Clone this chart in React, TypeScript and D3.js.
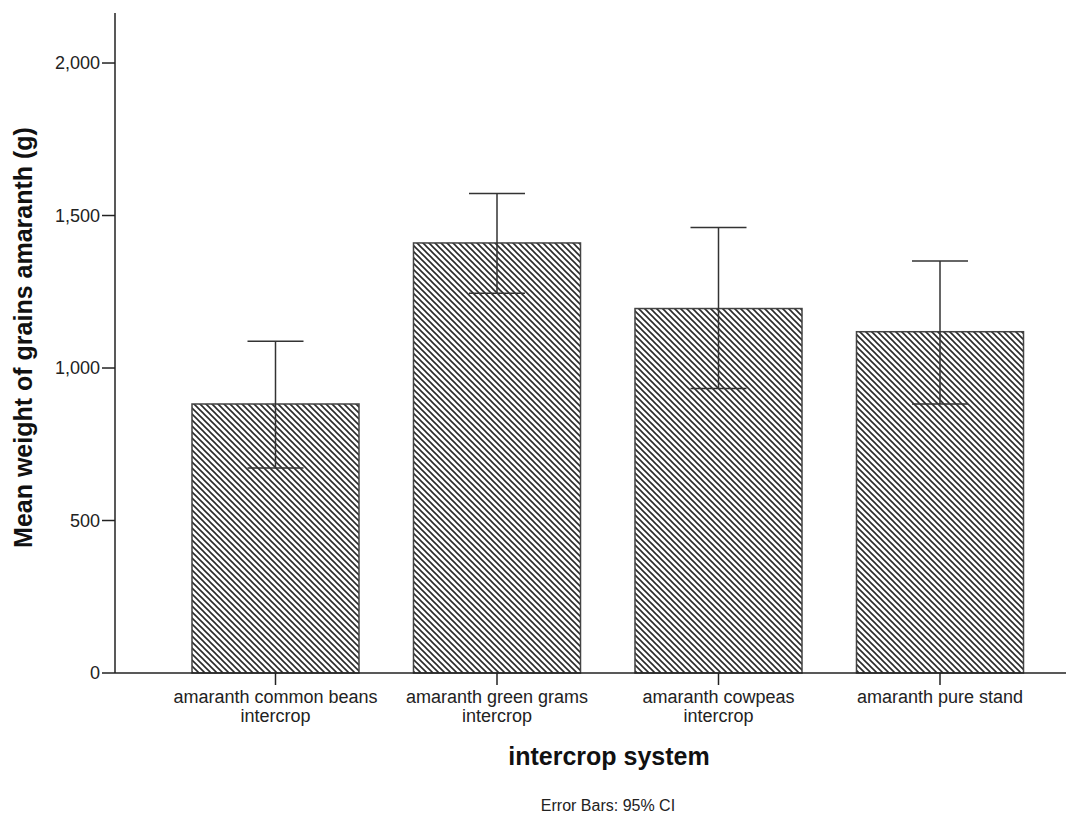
import React from "react";
import * as d3 from "d3";

// values
const categories = [
  "amaranth common beans|intercrop",
  "amaranth green grams|intercrop",
  "amaranth cowpeas|intercrop",
  "amaranth pure stand",
];
const means = [882, 1410, 1195, 1119];
const ciLow = [672, 1245, 933, 882];
const ciHigh = [1088, 1572, 1461, 1351];
const yTicks = [0, 500, 1000, 1500, 2000];

const W = 1066;
const H = 818;
const axisX = 115;
const axisY = 673;
const font = "'Liberation Sans', Arial, sans-serif";

export default function App() {
  const y = d3.scaleLinear().domain([0, 2164]).range([axisY, 13]);
  const x = d3
    .scaleBand()
    .domain(categories)
    .range([164.75, 1050.75])
    .paddingInner(0.246)
    .paddingOuter(0.123);
  const fmt = d3.format(",");
  const capW = 56;

  return (
    <svg
      width={W}
      height={H}
      style={{ position: "absolute", left: 0, top: 0, background: "#fff" }}
    >
      <defs>
        <pattern id="hatch" width={6} height={6} patternUnits="userSpaceOnUse">
          <rect width={6} height={6} fill="#fff" />
          <path
            d="M0,0 L6,6 M-1,5 L1,7 M5,-1 L7,1"
            stroke="#2a2a2a"
            strokeWidth={1.6}
          />
        </pattern>
      </defs>

      {/* bars */}
      {categories.map((c, i) => (
        <rect
          key={c}
          x={x(c)}
          y={y(means[i])}
          width={x.bandwidth()}
          height={y(0) - y(means[i])}
          fill="url(#hatch)"
          stroke="#444"
          strokeWidth={1.5}
        />
      ))}

      {/* error bars */}
      {categories.map((c, i) => {
        const cx = (x(c) ?? 0) + x.bandwidth() / 2;
        return (
          <g key={c} stroke="#333" strokeWidth={1.5}>
            <line x1={cx} x2={cx} y1={y(ciHigh[i])} y2={y(ciLow[i])} />
            <line x1={cx - capW / 2} x2={cx + capW / 2} y1={y(ciHigh[i])} y2={y(ciHigh[i])} />
            <line x1={cx - capW / 2} x2={cx + capW / 2} y1={y(ciLow[i])} y2={y(ciLow[i])} />
          </g>
        );
      })}

      {/* y axis */}
      <line x1={axisX} x2={axisX} y1={13} y2={axisY} stroke="#222" strokeWidth={1.5} />
      {yTicks.map((t) => (
        <g key={t}>
          <line x1={axisX - 13} x2={axisX} y1={y(t)} y2={y(t)} stroke="#222" strokeWidth={1.5} />
          <text
            x={axisX - 15}
            y={y(t)}
            dy="0.35em"
            textAnchor="end"
            fontFamily={font}
            fontSize={18}
            fill="#222"
          >
            {fmt(t)}
          </text>
        </g>
      ))}

      {/* x axis */}
      <line x1={axisX} x2={W} y1={axisY} y2={axisY} stroke="#222" strokeWidth={1.5} />
      {categories.map((c) => {
        const cx = (x(c) ?? 0) + x.bandwidth() / 2;
        const lines = c.split("|");
        return (
          <g key={c}>
            <line x1={cx} x2={cx} y1={axisY} y2={axisY + 12} stroke="#222" strokeWidth={1.5} />
            {lines.map((l, j) => (
              <text
                key={j}
                x={cx}
                y={703 + j * 19}
                textAnchor="middle"
                fontFamily={font}
                fontSize={18}
                fill="#222"
              >
                {l}
              </text>
            ))}
          </g>
        );
      })}

      {/* titles */}
      <text
        transform={`translate(32, ${(127 + 548) / 2}) rotate(-90)`}
        textAnchor="middle"
        fontFamily={font}
        fontSize={25}
        fontWeight="bold"
        fill="#111"
      >
        Mean weight of grains amaranth (g)
      </text>
      <text
        x={609}
        y={765}
        textAnchor="middle"
        fontFamily={font}
        fontSize={25}
        fontWeight="bold"
        fill="#111"
      >
        intercrop system
      </text>
      <text
        x={608}
        y={811}
        textAnchor="middle"
        fontFamily={font}
        fontSize={16}
        fill="#222"
      >
        Error Bars: 95% CI
      </text>
    </svg>
  );
}
